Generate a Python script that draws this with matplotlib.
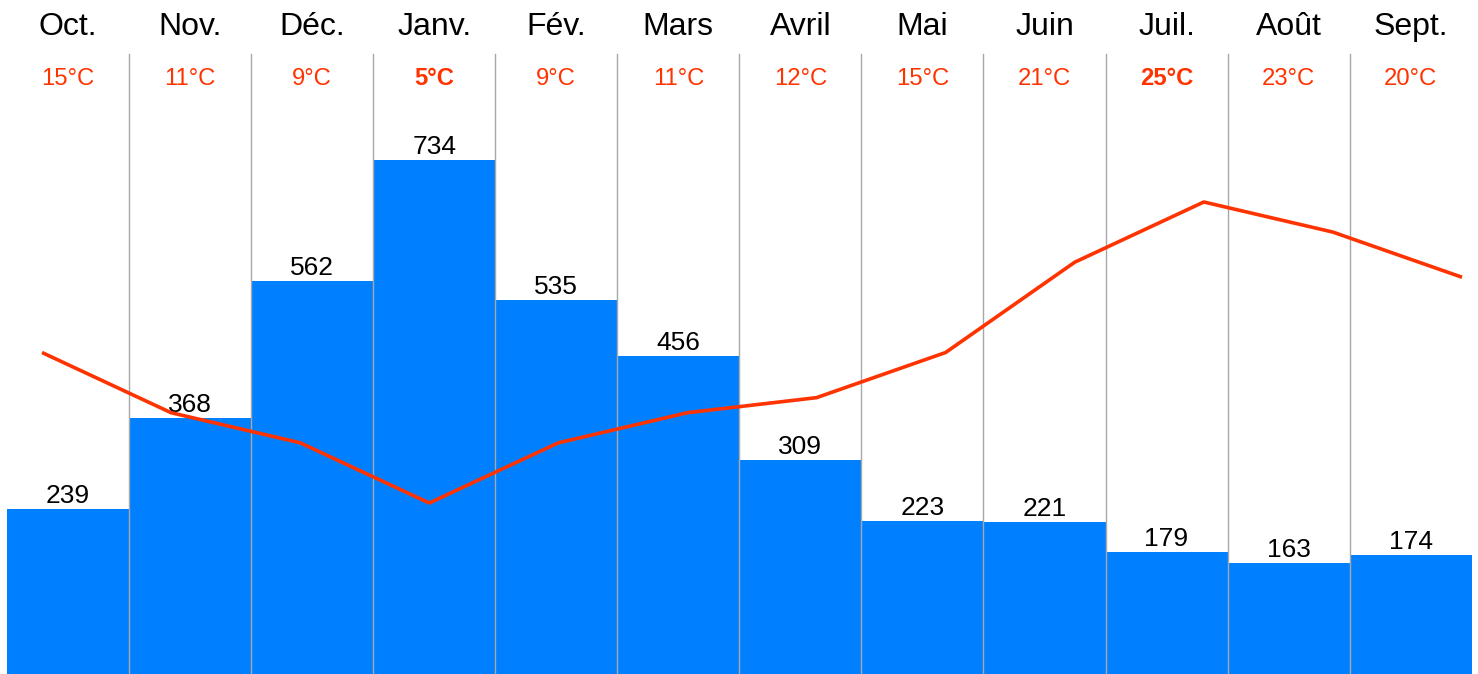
import matplotlib
matplotlib.use("Agg")
import matplotlib.pyplot as plt
from matplotlib.transforms import blended_transform_factory

months = ["Oct.", "Nov.", "Déc.", "Janv.", "Fév.", "Mars", "Avril", "Mai", "Juin", "Juil.", "Août", "Sept."]
precip = [239, 368, 562, 734, 535, 456, 309, 223, 221, 179, 163, 174]
temps = [15, 11, 9, 5, 9, 11, 12, 15, 21, 25, 23, 20]

plt.rcParams['font.family'] = ['Liberation Sans', 'DejaVu Sans']

W, H = 1478, 674
fig = plt.figure(figsize=(W / 100, H / 100), dpi=100)

ax = fig.add_axes([0, 0, 1, 1])
ax.set_axis_off()
colw = (1471.7 - 7) / 12
ax.set_xlim(-7 / colw, 12 + (W - 1471.7) / colw)
scale = 0.7058
zero_px = 678
ax.set_ylim((zero_px - H) / scale, zero_px / scale)

xs = [i + 0.5 for i in range(12)]
ax.bar(xs, precip, width=1.0, color="#0080FF", zorder=1, linewidth=0)

top_frac = 1 - 54 / H
for i in range(1, 12):
    ax.axvline(i, ymin=0, ymax=top_frac, color="#A8A8A8", lw=1.0, zorder=2)

# value labels
for x, v in zip(xs, precip):
    ax.annotate(str(v), (x, v), xytext=(0, 4.3), textcoords="offset points",
                ha="center", va="baseline", fontsize=19, color="black", zorder=4)

trans = blended_transform_factory(ax.transData, fig.transFigure)
for x, m in zip(xs, months):
    ax.text(x, 1 - 35 / H, m, transform=trans, ha="center", va="baseline",
            fontsize=23, color="black")

tmin, tmax = min(temps), max(temps)
for x, t in zip(xs, temps):
    bold = t in (tmin, tmax)
    ax.text(x, 1 - 85 / H, f"{t}°C", transform=trans, ha="center", va="baseline",
            fontsize=17.2, color="#FF3300", fontweight="bold" if bold else "normal")

# temperature line
ax2 = fig.add_axes([0, 0, 1, 1], frameon=False)
ax2.set_axis_off()
step = (1462 - 42) / 11
ax2.set_xlim(-42 / step, (W - 42) / step)
tscale = (503 - 202) / 20
t_at_top = 5 + 503 / tscale
t_at_bottom = 5 - (H - 503) / tscale
ax2.set_ylim(t_at_bottom, t_at_top)
ax2.plot(range(12), temps, color="#FF3300", lw=2.6, zorder=5, solid_capstyle="butt")

fig.savefig("out.png", dpi=100)
